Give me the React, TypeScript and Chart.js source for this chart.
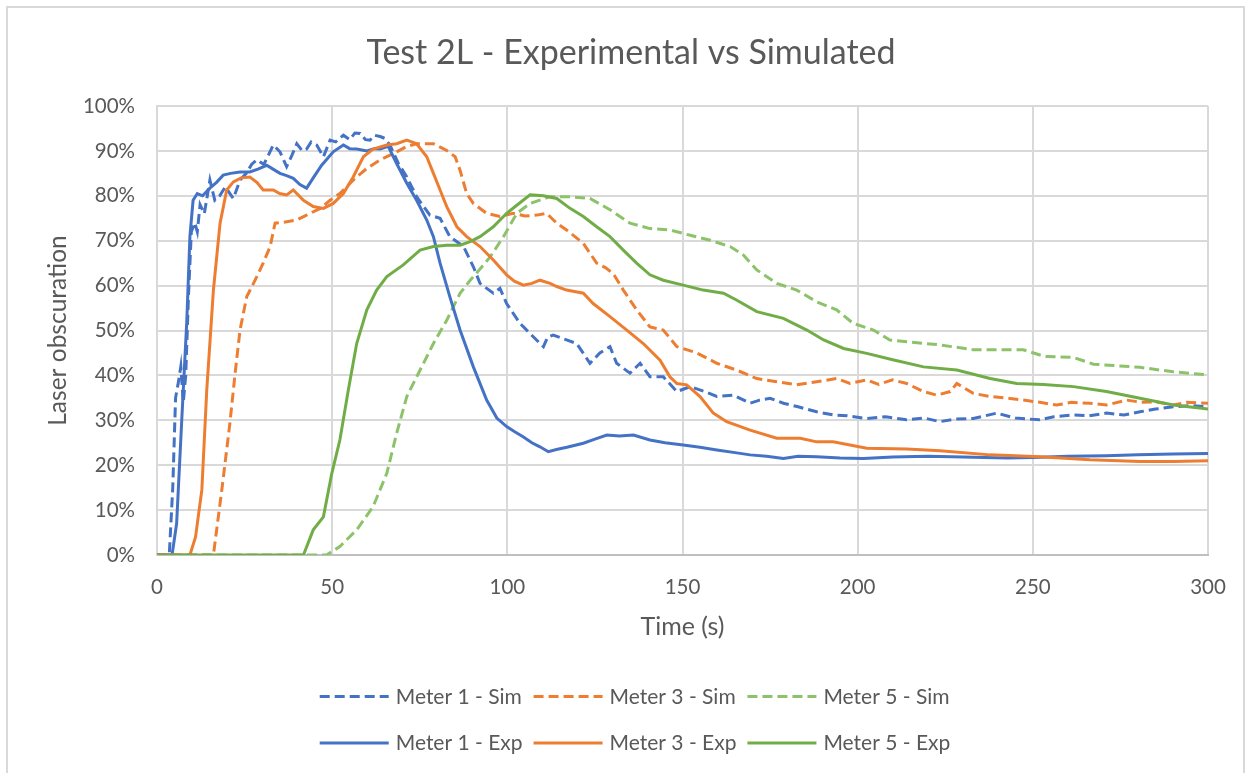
import { useEffect, useRef } from "react";
import { Chart, registerables } from "chart.js";

Chart.register(...registerables);

const FONT = "Lato, 'Open Sans', sans-serif";
const TEXT = "#595959";

const chartTitle = "Test 2L - Experimental vs Simulated";
const xAxisTitle = "Time (s)";
const yAxisTitle = "Laser obscuration";
const xTickValues = [0, 50, 100, 150, 200, 250, 300];
const yTickValues = [0, 10, 20, 30, 40, 50, 60, 70, 80, 90, 100];
const yTickLabels = ["0%", "10%", "20%", "30%", "40%", "50%", "60%", "70%", "80%", "90%", "100%"];

const seriesLabels = [
  "Meter 1 - Sim",
  "Meter 3 - Sim",
  "Meter 5 - Sim",
  "Meter 1 - Exp",
  "Meter 3 - Exp",
  "Meter 5 - Exp",
];

// Meter 1 - Sim
const m1SimT = [0, 3.5, 4.5, 5.3, 6, 6.8, 7.5, 8.2, 9, 9.8, 10.8, 11.5, 12.3, 13.5, 15.1, 16.5, 17.9, 19.5, 21.8, 23.7, 25.5, 27, 28.5, 30.5, 33.2, 35.1, 37, 38.5, 39.9, 41.5, 42.7, 44, 45.6, 47.5, 49.4, 51, 53.2, 55, 56.5, 58, 59.5, 60.8, 62, 63.7, 65, 66.5, 68.9, 71.3, 74.1, 77.9, 80.8, 83.6, 87.5, 90.3, 92.2, 96, 97.9, 99.8, 103.6, 107.4, 110.3, 111.5, 113.1, 116.9, 119.8, 123.6, 126.4, 129.3, 131.2, 135, 137.9, 140.7, 144.5, 148.4, 152.2, 156, 159.8, 164.5, 169.3, 172, 175, 178.8, 183, 188.3, 193, 197, 202.6, 208, 214, 219, 223.5, 228, 233, 239.7, 245, 252, 256, 261.6, 266, 271, 276, 280.6, 285, 290.1, 295, 300];
const m1SimV = [0, 0, 15, 35, 38, 42, 34, 40, 58, 72, 74, 72, 78, 76, 83.5, 79, 80, 82, 79.4, 83.5, 85, 87, 88, 87, 91.3, 89.8, 86.5, 89, 91.6, 90, 90.4, 92, 91.3, 88.7, 92.4, 92, 93.5, 92.5, 94, 93.9, 92.5, 92.4, 93.5, 93.2, 92.8, 91.3, 87.2, 84.2, 79.8, 75.7, 75, 70.9, 68.7, 64.2, 60.5, 58.3, 59.4, 56, 51.6, 48.6, 46.4, 48.5, 49, 47.9, 47.1, 42.7, 45, 46.4, 42.7, 40.5, 42.7, 39.7, 39.7, 36.4, 37.5, 36.5, 35.3, 35.6, 33.8, 34.5, 34.9, 33.8, 33, 31.9, 31.2, 31, 30.4, 30.8, 30.1, 30.5, 29.7, 30.3, 30.4, 31.6, 30.5, 30.1, 30.8, 31.2, 31, 31.6, 31.2, 31.9, 32.5, 33, 33.3, 33];

// Meter 3 - Sim
const m3SimT = [0, 16.1, 18.5, 20.8, 22.3, 23.7, 25.6, 28, 30.3, 32.3, 33.7, 37, 39.9, 42.7, 46.6, 49.4, 52.2, 56, 59.9, 63.7, 67.5, 71.3, 74.1, 78.9, 82.7, 85.1, 86.5, 88.4, 90.3, 94.1, 97.9, 101.7, 105, 108.4, 111.2, 114.1, 116.9, 121.7, 125.5, 128, 130.2, 133.1, 136.9, 140.7, 144.5, 148.4, 154.1, 159.8, 165.4, 171.2, 176.9, 182.6, 188.3, 194, 197.8, 202.6, 206, 210, 214, 218.8, 222.6, 226.4, 228.3, 233, 237.8, 242, 247.3, 252, 256.8, 261, 266.3, 271, 276.8, 281, 285.3, 290.1, 294, 300];
const m3SimV = [0, 0, 14.5, 29.3, 40.5, 50.1, 57.5, 61.2, 65, 68.7, 73.9, 74.2, 74.6, 75.7, 77.2, 79, 80.5, 83.5, 86.1, 88, 89.4, 91, 91.6, 91.6, 90.1, 88.7, 85.7, 80.5, 78.3, 76.1, 75.4, 76.1, 75.5, 75.7, 76.1, 73.9, 72.4, 69.4, 65, 64, 62.7, 59, 54.6, 50.8, 50.1, 46.4, 45, 42.7, 41.2, 39.3, 38.6, 37.9, 38.6, 39.3, 38.2, 39, 38, 39, 38.2, 36.4, 35.6, 36.4, 38.2, 36, 35.3, 35, 34.5, 34, 33.4, 34, 33.8, 33.4, 34.5, 34, 34.1, 33.4, 34, 33.8];

// Meter 5 - Sim
const m5SimT = [0, 48.4, 52.2, 57, 61.7, 65.6, 68.4, 71.3, 75.1, 78.9, 82.7, 86.5, 89.4, 92, 95.1, 98.9, 102.7, 106.5, 112.2, 117.9, 123.6, 129.3, 135, 140.7, 146.4, 152.2, 157.9, 163.6, 167.4, 171.2, 176.9, 182.6, 188.3, 194, 198.7, 204.5, 209.2, 214, 223.5, 233, 242.6, 247.3, 253.5, 261.6, 267.3, 280.6, 290.1, 300];
const m5SimV = [0, 0, 1.9, 5.6, 10.8, 18.2, 27.1, 35.3, 41.2, 47.1, 52.3, 58.3, 61.2, 63.5, 66.4, 70.9, 76.1, 78.3, 79.8, 79.8, 79.4, 76.9, 73.9, 72.7, 72.4, 71.2, 70.1, 68.7, 66.8, 63.5, 60.5, 59, 56.4, 54.6, 51.6, 50.1, 47.9, 47.5, 46.8, 45.7, 45.7, 45.7, 44.2, 44, 42.5, 41.8, 40.8, 40.1];

// Meter 1 - Exp
const m1ExpT = [0, 4.3, 5.6, 7, 8.5, 9.4, 10.3, 11.5, 13, 15.1, 17, 18.9, 21, 23.7, 26.5, 29, 31.3, 33, 35.1, 37, 38.9, 40.8, 42.7, 44.6, 47, 50.3, 53.2, 55, 57, 59.9, 62, 63.7, 66, 68.4, 71.3, 74.1, 77, 78.9, 80.8, 83.6, 86.5, 90.3, 94.1, 97, 99.8, 102, 104.6, 107, 109.3, 111.7, 114, 117, 121.7, 125, 128.4, 132, 136, 140.7, 145, 150.2, 155, 159.8, 165, 169.3, 174, 178.8, 183, 188.3, 195, 201.6, 210, 220, 230, 242.6, 250, 260, 271, 280, 290, 300];
const m1ExpV = [0, 0, 7, 29, 52, 71, 79, 80.5, 80, 81.7, 83, 84.6, 85, 85.3, 85.3, 86, 86.8, 86, 85, 84.5, 83.9, 82.5, 81.7, 84, 86.8, 89.8, 91.3, 90.5, 90.4, 90, 90.5, 90.4, 91, 87.2, 82.8, 79, 74.6, 70.9, 65, 57.5, 50.1, 41.9, 34.5, 30.5, 28.6, 27.5, 26.3, 25, 24.1, 23, 23.5, 24, 24.9, 25.8, 26.7, 26.5, 26.7, 25.6, 25, 24.5, 24, 23.4, 22.8, 22.3, 22, 21.5, 22, 21.9, 21.6, 21.5, 21.8, 22, 21.8, 21.6, 21.7, 22, 22.1, 22.3, 22.5, 22.6];

// Meter 3 - Exp
const m3ExpT = [0, 9.4, 11, 12.8, 14.2, 16.1, 18, 19.9, 21.8, 24, 26.5, 28.5, 30.3, 33.2, 35, 37, 38.9, 41.8, 44.6, 47.5, 50.3, 53.2, 56, 58.9, 61.7, 65.6, 68.4, 71.3, 74.1, 77, 78.9, 80.8, 82.7, 85.6, 88.4, 92.2, 96, 99.8, 102, 104.6, 107, 109.3, 112.2, 114.1, 116.9, 121.7, 124.5, 129.3, 134.1, 138.8, 143.6, 146.4, 148.4, 151.2, 155, 158.8, 162.6, 169.3, 176.9, 183.6, 188.3, 193, 202.6, 214, 223.5, 237.8, 252, 266.3, 280.6, 290.1, 300];
const m3ExpV = [0, 0, 4, 14.5, 36.7, 59, 73.9, 81.3, 83.1, 84, 84.2, 83, 81.3, 81.3, 80.5, 80.2, 81.3, 79, 77.6, 77.2, 78.3, 80.5, 84.2, 88.7, 90.4, 91.3, 91.6, 92.4, 91.6, 88.7, 85, 81.3, 77.6, 73.1, 70.9, 68.7, 65.7, 62.4, 61, 60.1, 60.5, 61.2, 60.5, 59.8, 59, 58.3, 56, 53.1, 50.1, 47.1, 43.4, 39.7, 38.2, 37.9, 35.3, 31.6, 29.7, 27.8, 26, 26, 25.2, 25.2, 23.8, 23.6, 23.2, 22.3, 21.9, 21.2, 20.8, 20.8, 21];

// Meter 5 - Exp
const m5ExpT = [0, 41.8, 44.6, 47.5, 49.9, 52.2, 54.6, 57, 59.9, 62.7, 65.6, 70.3, 75.1, 78.9, 82.7, 86.5, 89.4, 92.2, 96, 99.8, 102.7, 106.5, 110.3, 114.1, 117.9, 121.7, 125.5, 129.3, 133.1, 136.9, 140.7, 144.5, 150.2, 155.9, 161.7, 165.4, 171.2, 178.8, 185.5, 190.3, 196, 202.6, 210, 218.8, 228.3, 237.8, 245.4, 253, 261.6, 271, 280.6, 290.1, 300];
const m5ExpV = [0, 0, 5.6, 8.5, 18.2, 25.6, 36.7, 47.1, 54.6, 59, 62, 64.6, 67.9, 68.7, 69, 69, 69.8, 70.9, 73.1, 76.1, 77.9, 80.2, 80, 79.4, 77.2, 75.4, 73.1, 70.9, 67.9, 65, 62.4, 61.2, 60.1, 59, 58.3, 56.8, 54.2, 52.7, 50.1, 47.9, 46, 44.9, 43.5, 41.9, 41.2, 39.3, 38.2, 38, 37.5, 36.4, 34.9, 33.4, 32.5];

const BLUE = "#4472C4";
const ORANGE = "#ED7D31";
const GREEN = "#70AD47";
const LIGHT_GREEN = "#8CC36A";

const toPoints = (t: number[], v: number[]) => t.map((x, i) => ({ x, y: v[i] }));

const framePlugin = {
  id: "frameAndText",
  beforeDraw(chart: any) {
    const ctx = chart.ctx;
    ctx.save();
    ctx.strokeStyle = "#d9d9d9";
    ctx.lineWidth = 2;
    ctx.strokeRect(7, 7, 1237, 820);
    ctx.restore();
  },
  afterDraw(chart: any) {
    const ctx = chart.ctx;
    ctx.save();
    // title
    ctx.fillStyle = TEXT;
    ctx.font = `34px ${FONT}`;
    ctx.textAlign = "center";
    ctx.textBaseline = "alphabetic";
    ctx.fillText(chartTitle, 631, 63.5);

    // legend
    const ds = chart.data.datasets;
    const rows = [
      [0, 1, 2],
      [3, 4, 5],
    ];
    ctx.font = `21px ${FONT}`;
    const lineLen = 69;
    const gap = 7;
    const spacing = 11;
    const colW = [0, 1, 2].map((c) =>
      Math.max(...rows.map((r) => ctx.measureText(ds[r[c]].label).width))
    );
    const total = colW.reduce((a, w) => a + lineLen + gap + w, 0) + spacing * 2;
    const baselines = [703.5, 750];
    rows.forEach((r, ri) => {
      let x = 635 - total / 2;
      const base = baselines[ri];
      const ly = base - 7;
      r.forEach((di, c) => {
        const d = ds[di];
        ctx.strokeStyle = d.borderColor;
        ctx.lineWidth = 3;
        ctx.lineCap = "butt";
        ctx.setLineDash(d.borderDash || []);
        ctx.beginPath();
        ctx.moveTo(x, ly);
        ctx.lineTo(x + lineLen, ly);
        ctx.stroke();
        ctx.setLineDash([]);
        ctx.fillStyle = TEXT;
        ctx.textAlign = "left";
        ctx.textBaseline = "alphabetic";
        ctx.fillText(d.label, x + lineLen + gap, base);
        x += lineLen + gap + colW[c] + spacing;
      });
    });
    ctx.restore();
  },
};

export default function App() {
  const ref = useRef<HTMLCanvasElement | null>(null);

  useEffect(() => {
    document.body.style.margin = "0";
    const canvas = ref.current;
    if (!canvas) return;
    const dash = [10, 5];
    const mk = (label: string, t: number[], v: number[], color: string, dashed: boolean, order: number) => ({
      label,
      data: toPoints(t, v),
      borderColor: color,
      backgroundColor: color,
      borderWidth: 3,
      borderDash: dashed ? dash : [],
      pointRadius: 0,
      pointHoverRadius: 0,
      tension: 0,
      fill: false,
      order,
    });
    const chart = new Chart(canvas, {
      type: "line",
      data: {
        datasets: [
          mk(seriesLabels[0], m1SimT, m1SimV, BLUE, true, 6),
          mk(seriesLabels[1], m3SimT, m3SimV, ORANGE, true, 5),
          mk(seriesLabels[2], m5SimT, m5SimV, LIGHT_GREEN, true, 4),
          mk(seriesLabels[3], m1ExpT, m1ExpV, BLUE, false, 3),
          mk(seriesLabels[4], m3ExpT, m3ExpV, ORANGE, false, 2),
          mk(seriesLabels[5], m5ExpT, m5ExpV, GREEN, false, 1),
        ] as any,
      },
      plugins: [framePlugin],
      options: {
        responsive: false,
        animation: false,
        devicePixelRatio: 1,
        layout: { padding: { top: 106, right: 46, bottom: 128, left: 0 } },
        plugins: {
          legend: { display: false },
          title: { display: false },
          tooltip: { enabled: false },
        },
        scales: {
          x: {
            type: "linear",
            min: 0,
            max: 300,
            afterBuildTicks: (s: any) => {
              s.ticks = xTickValues.map((value) => ({ value }));
            },
            afterFit: (s: any) => {
              s.height = 90;
            },
            grid: { color: "#d9d9d9", lineWidth: 2, drawTicks: false },
            border: { color: "#bfbfbf", width: 2 },
            ticks: {
              font: { family: FONT, size: 20.5 },
              color: TEXT,
              padding: 20,
              maxRotation: 0,
              autoSkip: false,
              callback: (v: any) => String(v),
            },
            title: {
              display: true,
              text: xAxisTitle,
              color: TEXT,
              font: { family: FONT, size: 25, lineHeight: 1 },
              padding: { top: 0, bottom: 5.5 },
            },
          },
          y: {
            type: "linear",
            min: 0,
            max: 100,
            afterBuildTicks: (s: any) => {
              s.ticks = yTickValues.map((value) => ({ value }));
            },
            afterFit: (s: any) => {
              s.width = 157;
            },
            grid: { color: "#d9d9d9", lineWidth: 2, drawTicks: false },
            border: { color: "#d9d9d9", width: 2 },
            ticks: {
              font: { family: FONT, size: 20.5 },
              color: TEXT,
              padding: 22,
              autoSkip: false,
              callback: (v: any) => yTickLabels[yTickValues.indexOf(Number(v))] ?? "",
            },
            title: {
              display: true,
              text: yAxisTitle,
              color: TEXT,
              font: { family: FONT, size: 24.5, lineHeight: 1 },
              padding: { top: 46, bottom: 0 },
            },
          },
        },
      } as any,
    });
    return () => chart.destroy();
  }, []);

  return (
    <div style={{ width: 1254, height: 773 }}>
      <canvas ref={ref} width={1254} height={773} style={{ display: "block" }} />
    </div>
  );
}
